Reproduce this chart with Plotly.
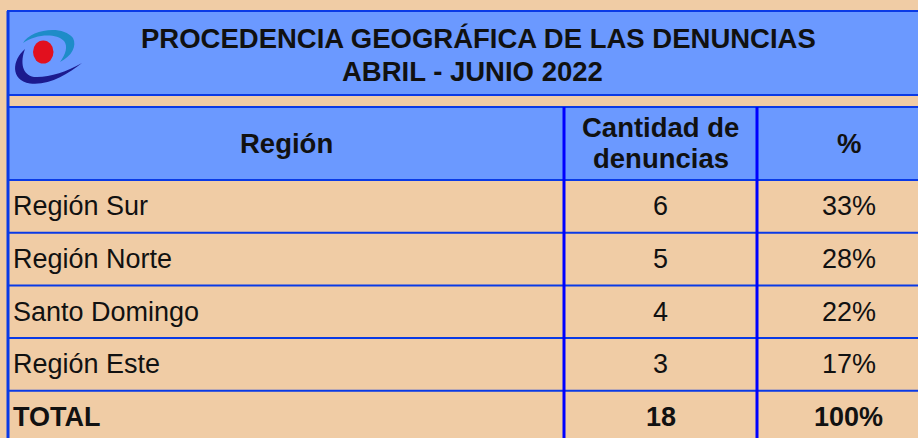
import plotly.graph_objects as go

# ---- data ----
title_lines = ["PROCEDENCIA GEOGRÁFICA DE LAS DENUNCIAS", "ABRIL - JUNIO 2022"]
header_region = "Región"
header_count = ["Cantidad de", "denuncias"]
header_pct = "%"
regions = ["Región Sur", "Región Norte", "Santo Domingo", "Región Este"]
counts = [6, 5, 4, 3]
pcts = [33, 28, 22, 17]
total_label = "TOTAL"
total_count = 18
total_pct = 100

# ---- styling / geometry ----
W, H = 918, 438
TAN = "#F0CCA5"
BLUE = "#6B99FF"
EDGE = "#0A3AE6"
COLSEP = "#0000FF"
FONT = "Liberation Sans, Arial, sans-serif"
FS = 27
INK = "#111111"

left_x, col1_x, col2_x, right_x = 8, 564, 757, 940
title_top, title_bot = 11, 95
head_top, head_bot = 107, 180
row_h = 52.7

fig = go.Figure()
shapes = []
ann = []


def txt(x, y, s, anchor="center", size=FS, bold=False):
    ann.append(dict(x=x, y=y, text=s, xanchor=anchor, yanchor="middle", showarrow=False,
                    font=dict(family=FONT, size=size, color=INK,
                              weight="bold" if bold else "normal")))


# title box
shapes.append(dict(type="rect", x0=left_x, x1=right_x + 10, y0=title_top, y1=title_bot,
                   fillcolor=BLUE, line=dict(color=EDGE, width=2), layer="below"))
# header row
shapes.append(dict(type="rect", x0=left_x, x1=right_x + 10, y0=head_top, y1=head_bot,
                   fillcolor=BLUE, line=dict(color=EDGE, width=2), layer="below"))

rows = [(r, str(c), f"{p}%", False) for r, c, p in zip(regions, counts, pcts)]
rows.append((total_label, str(total_count), f"{total_pct}%", True))

for i, (lab, cnt, pct, bold) in enumerate(rows):
    y0 = head_bot + i * row_h
    y1 = y0 + row_h
    shapes.append(dict(type="line", x0=left_x, x1=right_x + 10, y0=y1, y1=y1,
                       line=dict(color=EDGE, width=2)))
    yc = (y0 + y1) / 2
    txt(left_x + 3, yc, lab, anchor="left", bold=bold)
    txt((col1_x + col2_x) / 2, yc, cnt, bold=bold)
    txt((col2_x + right_x) / 2, yc, pct, bold=bold)

# vertical lines
shapes.append(dict(type="line", x0=left_x, x1=left_x, y0=title_top, y1=H + 10,
                   line=dict(color=EDGE, width=3)))
for xv in (col1_x, col2_x):
    shapes.append(dict(type="line", x0=xv, x1=xv, y0=head_top, y1=H + 10,
                       line=dict(color=COLSEP, width=3)))

# header texts
hy = (head_top + head_bot) / 2
txt((left_x + col1_x) / 2, hy, header_region, size=27.5, bold=True)
txt((col1_x + col2_x) / 2, hy - 16, header_count[0], size=27.5, bold=True)
txt((col1_x + col2_x) / 2, hy + 15, header_count[1], size=27.5, bold=True)
txt((col2_x + right_x) / 2, hy, header_pct, size=27.5, bold=True)

# title
txt(478, 38, title_lines[0], size=27.5, bold=True)
txt(472, 71, title_lines[1], size=27.5, bold=True)

# logo (decorative)
shapes.append(dict(type="path",
                   path="M 23,43 C 30,30 62,24 73,38 C 77,46 72,56 60,62 "
                        "C 66,54 68,46 64,41 C 56,33 36,34 23,43 Z",
                   fillcolor="#1E8CC8", line=dict(width=0)))
shapes.append(dict(type="path",
                   path="M 25,49 C 12,60 10,80 30,83.5 C 48,86 68,74 82,63 "
                        "C 66,72 48,78 34,77 C 22,75 20,62 25,49 Z",
                   fillcolor="#1C1A8E", line=dict(width=0)))
shapes.append(dict(type="circle", x0=33, x1=53.5, y0=40.5, y1=63.5,
                   fillcolor="#E2101E", line=dict(width=0)))

fig.update_layout(
    width=W, height=H, margin=dict(l=0, r=0, t=0, b=0),
    paper_bgcolor=TAN, plot_bgcolor=TAN,
    xaxis=dict(range=[0, W], visible=False, fixedrange=True),
    yaxis=dict(range=[H, 0], visible=False, fixedrange=True),
    shapes=shapes, annotations=ann, showlegend=False,
)
fig.write_html("out.html", config={"displayModeBar": False},
               post_script="document.body.style.margin='0';document.body.style.overflow='hidden';")
